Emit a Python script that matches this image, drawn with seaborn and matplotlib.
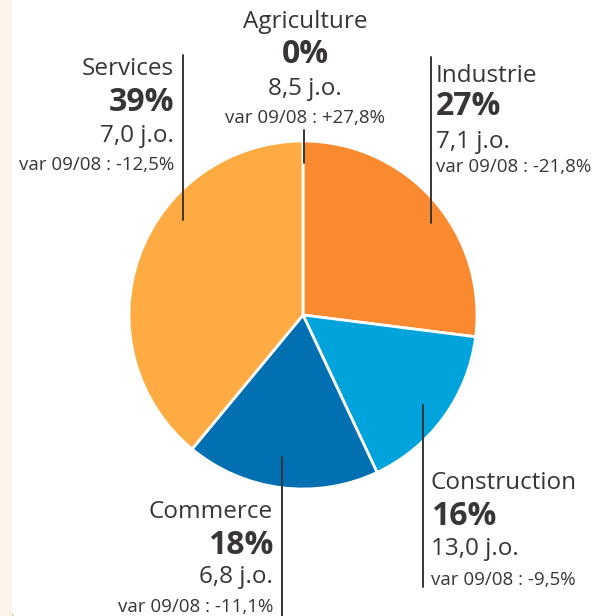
import numpy as np
import matplotlib.pyplot as plt
import seaborn as sns

# data
sectors = ["Agriculture", "Industrie", "Construction", "Commerce", "Services"]
shares = [0, 27, 16, 18, 39]
delays = ["8,5 j.o.", "7,1 j.o.", "13,0 j.o.", "6,8 j.o.", "7,0 j.o."]
variations = ["+27,8%", "-21,8%", "-9,5%", "-11,1%", "-12,5%"]
colors = ["#fde3c4", "#f98a30", "#00a3dc", "#0070b3", "#fdab42"]

sns.set_theme(style="white")
plt.rcParams['font.family'] = ['Open Sans', 'DejaVu Sans']

W, H = 597, 616
CX, CY, R = 303, 315, 174

fig = plt.figure(figsize=(W / 100, H / 100), dpi=100)
ax = fig.add_axes([0, 0, 1, 1])

ax.pie(shares, colors=colors, startangle=90, counterclock=False, radius=1,
       wedgeprops=dict(edgecolor="white", linewidth=2))

# pie() resets the limits, so set them afterwards
ax.set_xlim(-CX / R, (W - CX) / R)
ax.set_ylim(-(H - CY) / R, CY / R)
ax.set_aspect("equal")
ax.axis("off")


def px(x, y):
    # pixel position -> data coords
    return (x - CX) / R, (CY - y) / R


# beige strip on the left edge + the gold curve at the bottom
fig.patches.append(plt.Rectangle((0, 0), 11 / W, 1, transform=fig.transFigure,
                                 color="#faf5e8", zorder=0))
ax.plot(*zip(px(0, 586), px(4, 598), px(8, 608), px(12, 616)),
        color="#d9a745", lw=1.8, clip_on=False)

txt = "#3a3535"
# label blocks: x anchor, baselines of the 4 lines, alignment, leader line (x, y0, y1)
layout = {
    "Agriculture": (305, [28, 63, 95, 123], "center", (304, 130, 163)),
    "Industrie": (436, [82, 115, 148, 172], "left", (431, 57, 223)),
    "Construction": (431, [489, 525, 555, 585], "left", (423, 405, 587)),
    "Commerce": (273, [518, 554, 583, 612], "right", (282, 457, 616)),
    "Services": (174, [75, 111, 142, 170], "right", (183, 55, 220)),
}

for name, share, delay, var in zip(sectors, shares, delays, variations):
    x, ys, ha, (lx, ly0, ly1) = layout[name]
    lines = [(name, 17.5, "normal"), (f"{share}%", 23, "bold"),
             (delay, 17.5, "normal"), (f"var 09/08 : {var}", 13.5, "normal")]
    for (s, size, weight), yy in zip(lines, ys):
        ax.text(*px(x, yy), s, ha=ha, va="baseline", fontsize=size,
                fontweight=weight, color=txt)
    ax.plot(*zip(px(lx, ly0), px(lx, ly1)), color=txt, lw=1.4)

fig.savefig("out.png", dpi=100)
